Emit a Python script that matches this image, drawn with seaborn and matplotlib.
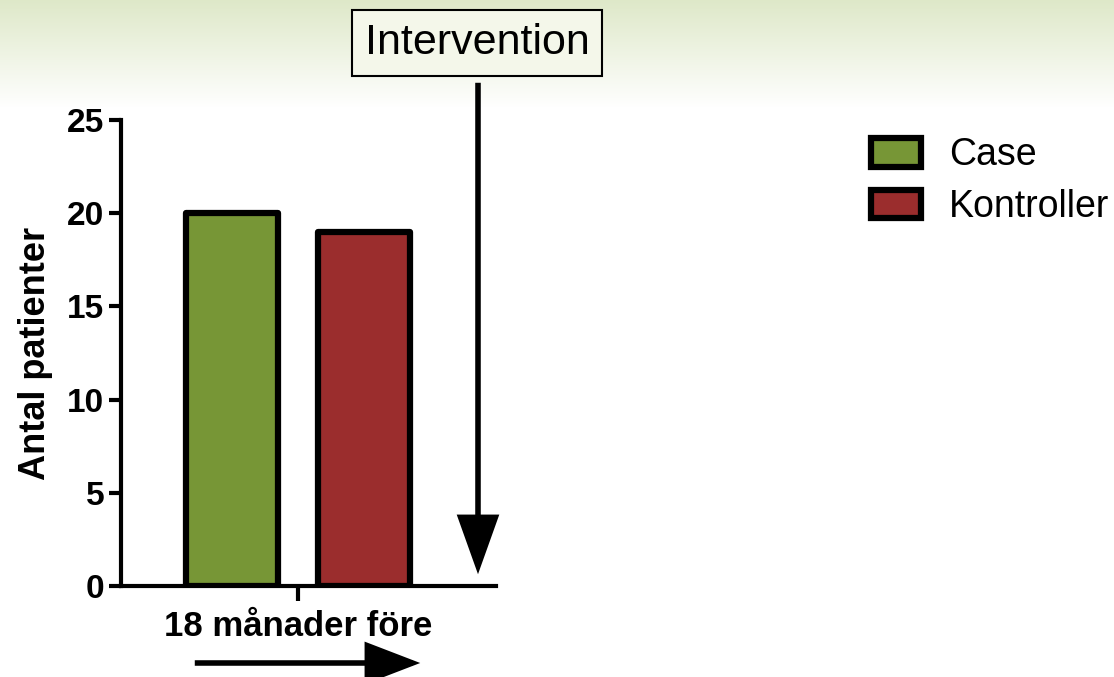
import numpy as np
import pandas as pd
import matplotlib.pyplot as plt
import seaborn as sns
from matplotlib.patches import FancyArrowPatch

# Data
periods = ["18 månader före"]
groups = ["Case", "Kontroller"]
counts = [20, 19]
colors = ["#779636", "#9b2d2d"]

df = pd.DataFrame({"period": periods * len(groups), "group": groups, "count": counts})

sns.set_style("white")
plt.rcParams["font.family"] = ["Liberation Sans", "DejaVu Sans"]
plt.rcParams["text.color"] = "black"
plt.rcParams["axes.labelcolor"] = "black"
plt.rcParams["xtick.color"] = "black"
plt.rcParams["ytick.color"] = "black"

fig = plt.figure(figsize=(11.14, 6.77), dpi=100)

# Light green gradient band at the top
bg = fig.add_axes([0, 0.84, 1, 0.16], zorder=0)
grad = np.linspace(0, 1, 100).reshape(-1, 1)
top = np.array([222, 232, 200]) / 255
img = top + (1 - top) * grad[..., None]
bg.imshow(img[::-1], aspect="auto", extent=[0, 1, 0, 1], origin="lower")
bg.set_axis_off()

ax = fig.add_axes([0.1086, 0.1344, 0.3366, 0.6883], zorder=1)
ax.patch.set_alpha(0)

sns.barplot(data=df, x="period", y="count", hue="group", palette=colors,
            saturation=1, width=0.8, gap=0.3, edgecolor="black",
            linewidth=4.5, ax=ax)
for p in ax.patches:
    p.set_joinstyle("round")

ax.set_ylim(0, 25)
ax.set_xlim(-0.536, 0.6)
ax.set_yticks([0, 5, 10, 15, 20, 25])
ax.set_ylabel("Antal patienter", fontsize=26, fontweight="bold", labelpad=10)
ax.set_xlabel("")
for side in ["top", "right"]:
    ax.spines[side].set_visible(False)
for side in ["left", "bottom"]:
    ax.spines[side].set_linewidth(3)
    ax.spines[side].set_color("black")
ax.tick_params(axis="y", length=9, width=3, left=True, labelsize=24, pad=3)
ax.tick_params(axis="x", length=11, width=3, bottom=True, labelsize=25, pad=6)
for lab in ax.get_xticklabels() + ax.get_yticklabels():
    lab.set_fontweight("bold")

leg = ax.legend(loc="upper left", bbox_to_anchor=(1.96, 0.995), frameon=False,
                fontsize=27, handlelength=1.34, handleheight=0.8,
                handletextpad=0.75, labelspacing=0.42, borderaxespad=0)
for h in leg.legend_handles:
    h.set_linewidth(4.5)
    h.set_edgecolor("black")

# Intervention box and arrow
fig.text(477 / 1114, 1 - 43 / 677, "Intervention", fontsize=31,
         ha="center", va="center",
         bbox=dict(boxstyle="square,pad=0.3", facecolor="#f4f7ea",
                   edgecolor="black", linewidth=1.5))
down = FancyArrowPatch((478 / 1114, 1 - 80 / 677), (478 / 1114, 1 - 577 / 677),
                       transform=fig.transFigure,
                       arrowstyle="-|>,head_length=1.4,head_width=0.5",
                       mutation_scale=25, linewidth=4, color="black",
                       joinstyle="miter", capstyle="butt")
fig.patches.append(down)

right = FancyArrowPatch((192 / 1114, 1 - 663 / 677), (423 / 1114, 1 - 663 / 677),
                        transform=fig.transFigure,
                        arrowstyle="-|>,head_length=1.3,head_width=0.5",
                        mutation_scale=25, linewidth=4, color="black",
                        joinstyle="miter", capstyle="butt")
fig.patches.append(right)

fig.savefig("out.png", dpi=100)
